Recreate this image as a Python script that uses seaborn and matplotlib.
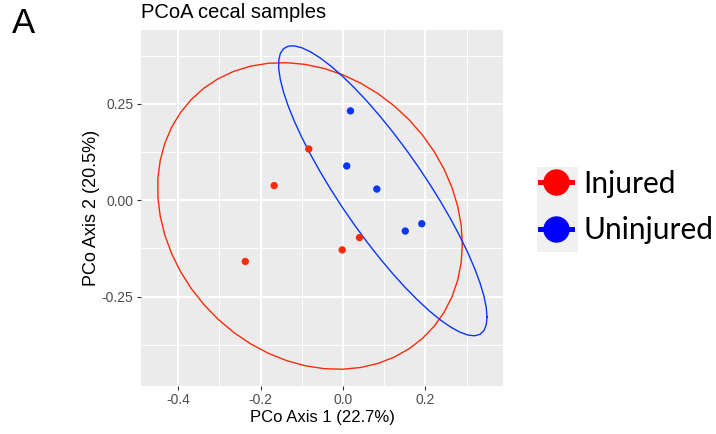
import numpy as np
import pandas as pd
import matplotlib
matplotlib.use("Agg")
import matplotlib.pyplot as plt
from matplotlib.lines import Line2D
from matplotlib.patches import Rectangle
import seaborn as sns

# PCoA ordination scores per cecal sample
groups = ["Injured", "Uninjured"]
injured_axis1 = [-0.083, -0.167, -0.237, -0.002, 0.040]
injured_axis2 = [0.133, 0.038, -0.159, -0.129, -0.097]
uninjured_axis1 = [0.018, 0.009, 0.082, 0.151, 0.191]
uninjured_axis2 = [0.232, 0.089, 0.029, -0.080, -0.061]

x_ticks = [-0.4, -0.2, 0.0, 0.2]
y_ticks = [-0.25, 0.00, 0.25]
x_tick_labels = ["-0.4", "-0.2", "0.0", "0.2"]
y_tick_labels = ["-0.25", "0.00", "0.25"]

colors = {"Injured": "#FA2A0A", "Uninjured": "#0A36FA"}
legend_colors = {"Injured": "#FF0000", "Uninjured": "#0000FF"}

df = pd.DataFrame({
    "axis1": injured_axis1 + uninjured_axis1,
    "axis2": injured_axis2 + uninjured_axis2,
    "group": ["Injured"] * len(injured_axis1) + ["Uninjured"] * len(uninjured_axis1),
})


def cov_trob(x, nu=5, maxit=25, tol=0.01):
    """Robust multivariate-t covariance estimate (MASS::cov.trob)."""
    n, p = x.shape
    wt = np.ones(n)
    loc = x.mean(axis=0)
    w = np.sqrt(wt)
    for _ in range(maxit):
        w0 = w
        X = x - loc
        _, d, vt = np.linalg.svd(np.sqrt(w / w.sum())[:, None] * X, full_matrices=False)
        wX = X @ vt.T @ np.diag(1.0 / d)
        Q = (wX ** 2).sum(axis=1)
        w = (wt * (nu + p)) / (nu + Q)
        loc = (w[:, None] * x).sum(axis=0) / w.sum()
        if np.all(np.abs(w - w0) < tol):
            break
    cov = (np.sqrt(w)[:, None] * X).T @ (np.sqrt(w)[:, None] * X) / wt.sum()
    return cov, loc


def t_ellipse(x, level=0.95, segments=51):
    n = x.shape[0]
    cov, center = cov_trob(x)
    chol = np.linalg.cholesky(cov).T
    dfn, dfd = 2, n - 1
    # F(2, d) quantile in closed form
    fq = dfd / 2.0 * ((1 - level) ** (-2.0 / dfd) - 1)
    radius = np.sqrt(dfn * fq)
    ang = np.linspace(0, 2 * np.pi, segments + 1)
    circle = np.column_stack([np.cos(ang), np.sin(ang)])
    return center + radius * circle @ chol


plt.rcParams["font.family"] = ["Liberation Sans", "DejaVu Sans"]

fig = plt.figure(figsize=(7.16, 4.34), dpi=100)
ax = fig.add_axes([141 / 716, 1 - 385.7 / 434, (503 - 141) / 716, (385.7 - 30) / 434])
ax.set_facecolor("#EBEBEB")

for g in groups:
    sub = df[df["group"] == g][["axis1", "axis2"]].to_numpy()
    e = t_ellipse(sub)
    ax.plot(e[:, 0], e[:, 1], color=colors[g], lw=1.0, zorder=2)

sns.scatterplot(data=df, x="axis1", y="axis2", hue="group", palette=colors,
                s=28, edgecolor="none", legend=False, ax=ax, zorder=3)

ax.set_xlim(-0.49, 0.388)
ax.set_ylim(-0.4816, 0.442)
ax.set_xticks(x_ticks)
ax.set_xticklabels(x_tick_labels)
ax.set_yticks(y_ticks)
ax.set_yticklabels(y_tick_labels)
ax.set_xticks([-0.3, -0.1, 0.1, 0.3], minor=True)
ax.set_yticks([-0.375, -0.125, 0.125, 0.375], minor=True)
ax.grid(which="major", color="white", lw=1.4, zorder=0)
ax.grid(which="minor", color="white", lw=0.7, zorder=0)
ax.set_axisbelow(True)
for s in ax.spines.values():
    s.set_visible(False)
ax.tick_params(which="major", length=3, width=0.8, color="#333333",
               labelsize=10, labelcolor="#4D4D4D", pad=2.5)
ax.tick_params(which="minor", length=0)

ax.set_xlabel("PCo Axis 1 (22.7%)", fontsize=12, labelpad=2)
ax.set_ylabel("PCo Axis 2 (20.5%)", fontsize=13, labelpad=1)
ax.set_title("PCoA cecal samples", loc="left", fontsize=14.5, pad=9)

fig.text(12 / 716, 1 - 33 / 434, "A", fontsize=25, ha="left", va="baseline")

# legend key background
fig.patches.append(Rectangle((537 / 716, 1 - 252 / 434), 41 / 716, 85 / 434,
                             transform=fig.transFigure, facecolor="#F0F0F0",
                             edgecolor="none", zorder=0))
handles = [Line2D([0], [0], color=legend_colors[g], lw=3.6, marker="o",
                  markersize=18) for g in groups]
fig.legend(handles, groups, loc="center left", bbox_to_anchor=(540 / 716, 1 - 207 / 434),
           frameon=False, handlelength=1.07, handletextpad=0.37, labelspacing=0.62,
           prop={"family": "Lato", "size": 21.5}, borderpad=0, borderaxespad=0)

fig.savefig("out.png", dpi=100)
